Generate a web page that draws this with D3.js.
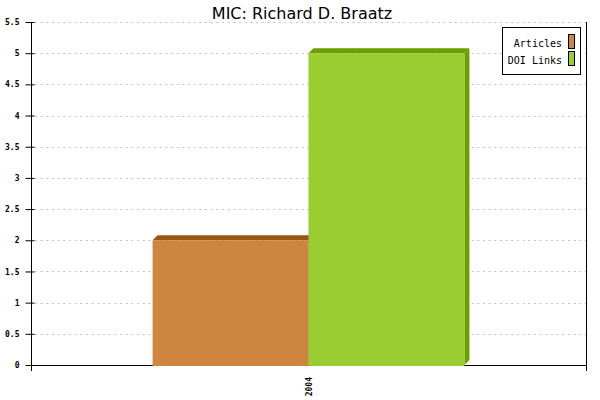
<!DOCTYPE html>
<html>
<head>
<meta charset="utf-8">
<script src="https://cdn.jsdelivr.net/npm/d3@7"></script>
<style>
  body { margin: 0; background: #fff; }
  svg { display: block; }
</style>
</head>
<body>
<div id="chart"></div>
<script>
// data
const years = ['2004']
const seriesNames = ['Articles', 'DOI Links']
const articles = [2]
const doiLinks = [5]
const yTicks = [0, 0.5, 1, 1.5, 2, 2.5, 3, 3.5, 4, 4.5, 5, 5.5]

const fronts = ['#cd853f', '#9acd32']
const darks = ['#9b5414', '#6b9e00']

const width = 600, height = 400
const plotLeft = 31, plotRight = 586, plotTop = 22, plotBottom = 365
const depth = 5

const svg = d3.select('#chart').append('svg')
    .attr('width', width)
    .attr('height', height)

const y = d3.scaleLinear().domain([0, 5.5]).range([plotBottom, plotTop])

const x = d3.scaleBand()
    .domain(years)
    .range([plotLeft, plotRight])
    .paddingInner(0)
    .paddingOuter(0.39)

const xs = d3.scaleBand()
    .domain(seriesNames)
    .range([0, x.bandwidth()])

// grid
svg.append('g')
    .selectAll('line')
    .data(yTicks.filter(d => d > 0))
    .enter()
    .append('line')
    .attr('x1', plotLeft + 4)
    .attr('x2', plotRight)
    .attr('y1', d => Math.round(y(d)) + 0.5)
    .attr('y2', d => Math.round(y(d)) + 0.5)
    .attr('stroke', '#c4c4c4')
    .attr('stroke-dasharray', '2,3.67')

// right border line
svg.append('line')
    .attr('x1', plotRight + 0.5).attr('x2', plotRight + 0.5)
    .attr('y1', plotTop).attr('y2', plotBottom + 6)
    .attr('stroke', '#000')

// x axis line + boundary ticks
svg.append('line')
    .attr('x1', plotLeft).attr('x2', plotRight)
    .attr('y1', plotBottom + 0.5).attr('y2', plotBottom + 0.5)
    .attr('stroke', '#000')
svg.append('g')
    .selectAll('line')
    .data(x.range())
    .enter()
    .append('line')
    .attr('x1', d => d + 0.5).attr('x2', d => d + 0.5)
    .attr('y1', plotBottom).attr('y2', plotBottom + 6)
    .attr('stroke', '#000')

// y axis
const yAxis = svg.append('g')
    .attr('transform', `translate(${plotLeft + 0.5},0)`)
    .call(d3.axisLeft(y).tickValues(yTicks).tickSize(0).tickPadding(12)
        .tickFormat(d => d3.format('')(d)))
yAxis.select('.domain').remove()
yAxis.selectAll('text')
    .attr('font-family', 'DejaVu Sans Mono')
    .attr('font-size', 8)
    .attr('font-weight', 'bold')
    .attr('fill', '#000')
yAxis.selectAll('.tick').append('line')
    .attr('x1', -6).attr('x2', 3)
    .attr('stroke', '#000')
yAxis.append('line')
    .attr('y1', plotTop).attr('y2', plotBottom + 6)
    .attr('stroke', '#000')

// 3D bars
const series = [articles, doiLinks]
series.forEach((vals, si) => {
    const g = svg.append('g')
    vals.forEach((v, i) => {
        const x0 = x(years[i]) + xs(seriesNames[si])
        const x1 = x0 + xs.bandwidth()
        const yt = y(v)
        // side face
        g.append('path')
            .attr('d', `M${x1},${yt}L${x1 + depth},${yt - depth}L${x1 + depth},${plotBottom - depth}L${x1},${plotBottom}Z`)
            .attr('fill', darks[si])
        // top face
        g.append('path')
            .attr('d', `M${x0},${yt}L${x0 + depth},${yt - depth}L${x1 + depth},${yt - depth}L${x1},${yt}Z`)
            .attr('fill', darks[si])
        // front
        g.append('rect')
            .attr('x', x0)
            .attr('y', yt)
            .attr('width', xs.bandwidth())
            .attr('height', plotBottom + 1 - yt)
            .attr('fill', fronts[si])
    })
})

// x labels
svg.append('g')
    .selectAll('text')
    .data(years)
    .enter()
    .append('text')
    .attr('transform', d => `translate(${x(d) + x.bandwidth() / 2 + 3},377)rotate(-90)`)
    .attr('text-anchor', 'end')
    .attr('font-family', 'DejaVu Sans Mono')
    .attr('font-size', 8)
    .attr('font-weight', 'bold')
    .text(d => d)

// legend
const lg = svg.append('g')
lg.append('rect')
    .attr('x', 502.5).attr('y', 27.5)
    .attr('width', 78).attr('height', 47)
    .attr('fill', '#fff').attr('stroke', '#000')
seriesNames.forEach((name, i) => {
    lg.append('text')
        .attr('x', 562)
        .attr('y', 47 + i * 17)
        .attr('text-anchor', 'end')
        .attr('font-family', 'DejaVu Sans Mono')
        .attr('font-size', 10)
        .text(name)
    lg.append('rect')
        .attr('x', 568.5)
        .attr('y', 34.5 + i * 17)
        .attr('width', 6)
        .attr('height', 14)
        .attr('fill', fronts[i])
        .attr('stroke', '#000')
})

// title
svg.append('text')
    .attr('x', 302)
    .attr('y', 19)
    .attr('text-anchor', 'middle')
    .attr('font-family', 'DejaVu Sans')
    .attr('font-size', 16)
    .text('MIC: Richard D. Braatz')
</script>
</body>
</html>
